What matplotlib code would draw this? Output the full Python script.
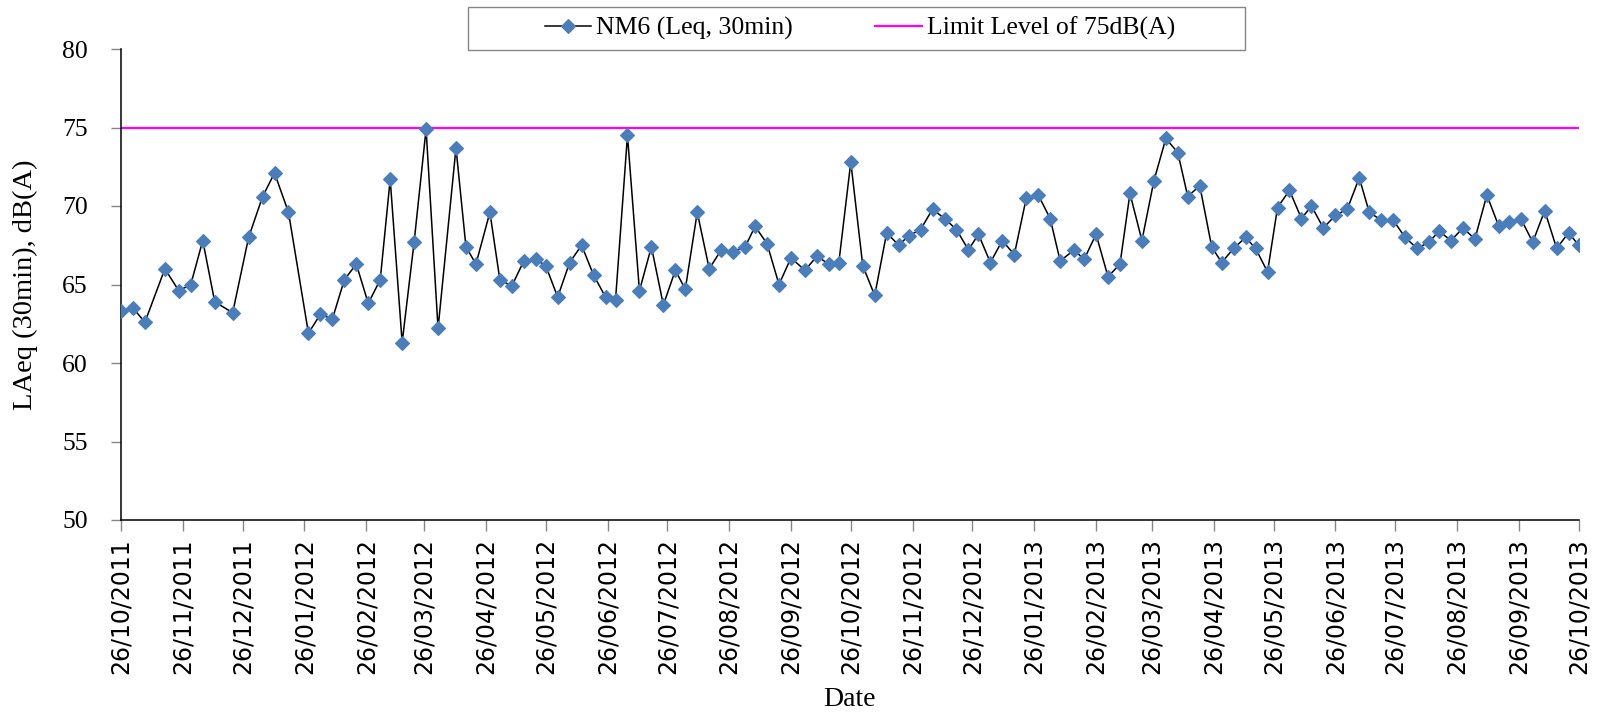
import pandas as pd
import matplotlib
matplotlib.use("Agg")
import matplotlib.pyplot as plt
import matplotlib.dates as mdates
from matplotlib.patches import Rectangle

# datos (dias desde el 26/10/2011 y nivel LAeq)
inicio = "2011-10-26"
fin = "2013-10-26"
dias = [0, 6, 12, 22, 29, 35, 41, 47, 56, 64, 71, 77, 84, 94, 100, 106, 112, 118,
        124, 130, 135, 141, 147, 153, 159, 168, 173, 178, 185, 190, 196, 202, 208,
        213, 219, 225, 231, 237, 243, 248, 254, 260, 266, 272, 278, 283, 289, 295,
        301, 307, 313, 318, 324, 330, 336, 343, 349, 355, 360, 366, 372, 378, 384,
        390, 395, 401, 407, 413, 419, 425, 430, 436, 442, 448, 454, 460, 466, 471,
        478, 483, 489, 495, 501, 506, 512, 518, 524, 530, 535, 541, 547, 552, 558,
        564, 569, 575, 580, 586, 592, 597, 603, 609, 615, 621, 626, 632, 638, 644,
        650, 656, 661, 667, 673, 679, 685, 691, 696, 702, 708, 714, 720, 726, 731]
laeq = [63.3, 63.5, 62.6, 66.0, 64.6, 65.0, 67.8, 63.9, 63.2, 68.0, 70.6, 72.1, 69.6,
        61.9, 63.1, 62.8, 65.3, 66.3, 63.8, 65.3, 71.7, 61.3, 67.7, 74.9, 62.2, 73.7,
        67.4, 66.3, 69.6, 65.3, 64.9, 66.5, 66.6, 66.2, 64.2, 66.4, 67.5, 65.6, 64.2,
        64.0, 74.5, 64.6, 67.4, 63.7, 65.9, 64.7, 69.6, 66.0, 67.2, 67.1, 67.4, 68.7,
        67.6, 65.0, 66.7, 65.9, 66.8, 66.3, 66.4, 72.8, 66.2, 64.3, 68.3, 67.5, 68.1,
        68.5, 69.8, 69.2, 68.5, 67.2, 68.2, 66.4, 67.8, 66.9, 70.5, 70.7, 69.2, 66.5,
        67.2, 66.6, 68.2, 65.5, 66.3, 70.8, 67.8, 71.6, 74.3, 73.4, 70.6, 71.3, 67.4,
        66.4, 67.3, 68.0, 67.3, 65.8, 69.9, 71.0, 69.2, 70.0, 68.6, 69.4, 69.8, 71.8,
        69.6, 69.1, 69.1, 68.0, 67.3, 67.7, 68.4, 67.8, 68.6, 67.9, 70.7, 68.7, 69.0,
        69.2, 67.7, 69.7, 67.3, 68.3, 67.5]
limite = 75
y_ticks = [50, 55, 60, 65, 70, 75, 80]

fechas = pd.to_datetime(inicio) + pd.to_timedelta(dias, unit="D")
# un tick el dia 26 de cada mes
ticks_x = pd.date_range("2011-10-01", fin, freq="MS") + pd.Timedelta(days=25)

serif = "Liberation Serif"

fig = plt.figure(figsize=(15.99, 7.17), dpi=100)
ax = fig.add_axes([121 / 1599, 1 - 520 / 717, 1457.6 / 1599, 471 / 717])

ax.plot(fechas, laeq, color="black", lw=1.1, marker="D", ms=6.8,
        mfc="#4A7EBB", mec="#4A7EBB", mew=0.8, label="NM6 (Leq, 30min)", zorder=3)
ax.axhline(limite, color="#FF00FF", lw=1.6, label="Limit Level of 75dB(A)", zorder=2)

ax.set_ylim(50, 80)
ax.set_yticks(y_ticks)
ax.set_xlim(pd.to_datetime(inicio), pd.to_datetime(fin))
ax.set_xticks(ticks_x)
ax.xaxis.set_major_formatter(mdates.DateFormatter("%d/%m/%Y"))

for s in ["top", "right"]:
    ax.spines[s].set_visible(False)
for s in ["left", "bottom"]:
    ax.spines[s].set_color("black")
    ax.spines[s].set_linewidth(1.1)

ax.tick_params(axis="y", direction="out", length=7, width=1, color="#868686", pad=17)
ax.tick_params(axis="x", direction="out", length=8, width=1, color="#868686", pad=5)
for t in ax.get_yticklabels():
    t.set_fontfamily(serif)
    t.set_fontsize(18.5)
for t in ax.get_xticklabels():
    t.set_fontfamily("DejaVu Sans")
    t.set_fontsize(17)
    t.set_rotation(90)

ax.set_ylabel("LAeq (30min), dB(A)", fontfamily=serif, fontsize=20.5)
ax.yaxis.set_label_coords(-0.057, 0.5)
ax.set_xlabel("Date", fontfamily=serif, fontsize=20)
ax.xaxis.set_label_coords(0.5, -0.355)

# caja de la leyenda arriba
fig.patches.append(Rectangle((468 / 1599, 1 - 50 / 717), 777 / 1599, 43 / 717,
                             transform=fig.transFigure, fill=False,
                             edgecolor="#868686", lw=1))
fig.legend(loc="center", bbox_to_anchor=(860 / 1599, 1 - 28.5 / 717), ncol=2,
           frameon=False, prop={"family": serif, "size": 18.5},
           handlelength=1.8, handletextpad=0.2, columnspacing=3.2)

fig.savefig("out.png", dpi=100)
